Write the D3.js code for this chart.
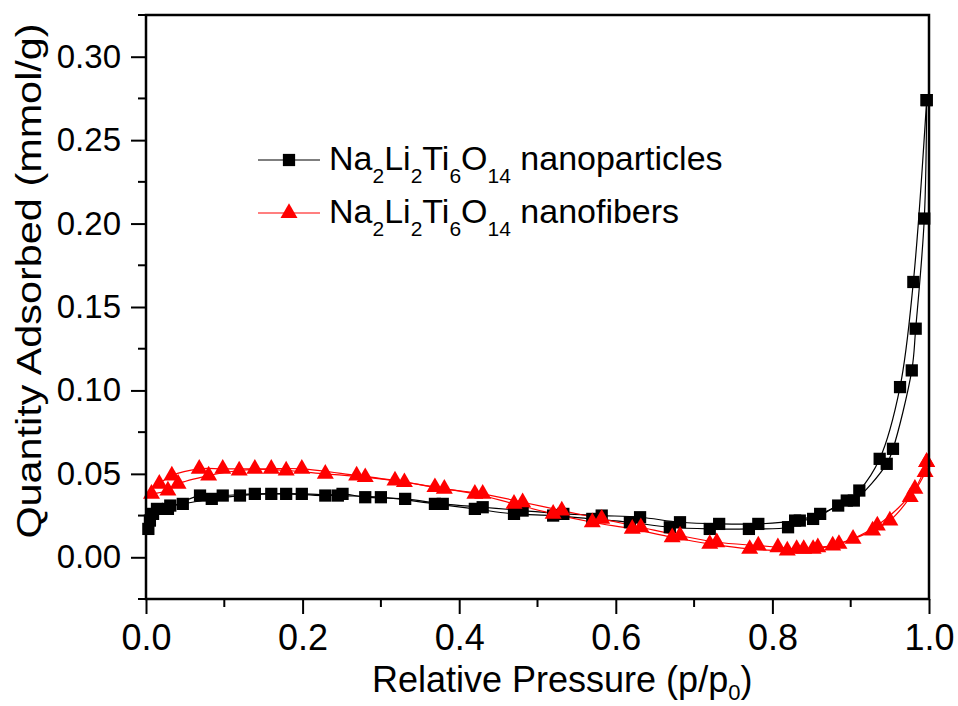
<!DOCTYPE html>
<html>
<head>
<meta charset="utf-8">
<script src="https://cdn.jsdelivr.net/npm/d3@7"></script>
<style>
  body { margin: 0; background: #fff; }
  svg { display: block; }
  text { font-family: "Liberation Sans", Arial, sans-serif; fill: #000; }
</style>
</head>
<body>
<svg id="chart" width="958" height="706"></svg>
<script>
// ---- data (p/p0, mmol/g) ----
const npAdsP = [0.003,0.005,0.009,0.014,0.031,0.047,0.084,0.120,0.160,0.199,0.245,0.300,0.369,0.420,0.470,0.520,0.570,0.618,0.669,0.720,0.770,0.820,0.835,0.852,0.884,0.904,0.946,0.954,0.978,0.983,0.994,0.997];
const npAdsV = [0.017,0.022,0.026,0.029,0.031,0.032,0.035,0.037,0.038,0.038,0.037,0.036,0.032,0.029,0.026,0.025,0.023,0.021,0.018,0.017,0.017,0.018,0.022,0.023,0.031,0.034,0.056,0.065,0.112,0.137,0.203,0.274];
const npDesP = [0.997,0.980,0.963,0.937,0.911,0.895,0.861,0.829,0.782,0.732,0.682,0.631,0.582,0.533,0.481,0.430,0.379,0.331,0.280,0.251,0.229,0.179,0.139,0.098,0.069,0.028];
const npDesV = [0.274,0.165,0.102,0.059,0.040,0.034,0.026,0.022,0.020,0.020,0.021,0.024,0.025,0.026,0.028,0.030,0.032,0.035,0.036,0.038,0.037,0.038,0.038,0.037,0.037,0.029];

const nfAdsP = [0.007,0.028,0.041,0.080,0.119,0.160,0.199,0.269,0.318,0.369,0.420,0.470,0.520,0.570,0.621,0.672,0.720,0.771,0.819,0.840,0.858,0.877,0.903,0.928,0.950,0.976,0.995,0.997];
const nfAdsV = [0.038,0.040,0.044,0.049,0.052,0.053,0.053,0.049,0.046,0.042,0.038,0.032,0.026,0.021,0.017,0.012,0.008,0.005,0.004,0.005,0.006,0.007,0.011,0.016,0.022,0.036,0.051,0.057];
const nfDesP = [0.997,0.982,0.934,0.885,0.852,0.831,0.807,0.782,0.729,0.682,0.632,0.582,0.531,0.481,0.430,0.381,0.330,0.280,0.229,0.179,0.139,0.098,0.068,0.033,0.017];
const nfDesV = [0.057,0.041,0.019,0.008,0.005,0.005,0.006,0.007,0.009,0.013,0.018,0.023,0.028,0.033,0.038,0.041,0.045,0.048,0.050,0.052,0.053,0.053,0.053,0.049,0.044];

const xTicks = [0.0, 0.2, 0.4, 0.6, 0.8, 1.0];
const xMinor = [0.1, 0.3, 0.5, 0.7, 0.9];
const yTicks = [0.00, 0.05, 0.10, 0.15, 0.20, 0.25, 0.30];
const yMinor = [-0.025, 0.025, 0.075, 0.125, 0.175, 0.225, 0.275, 0.325];

const seriesNames = ["nanoparticles", "nanofibers"];
const formula = [["Na",""],["2","sub"],["Li",""],["2","sub"],["Ti",""],["6","sub"],["O",""],["14","sub"]];

// ---- layout ----
const W = 958, H = 706;
const m = {left: 146, right: 29, top: 15, bottom: 107};
const iw = W - m.left - m.right, ih = H - m.top - m.bottom;

const svg = d3.select("#chart");
const x = d3.scaleLinear().domain([0, 1.0]).range([m.left, m.left + iw]);
const y = d3.scaleLinear().domain([-0.025, 0.325]).range([m.top + ih, m.top]);

const zip = (a, b) => a.map((d, i) => [d, b[i]]);
const line = d3.line().x(d => x(d[0])).y(d => y(d[1])).curve(d3.curveCatmullRom.alpha(0.5));

const series = [
  {ads: zip(npAdsP, npAdsV), des: zip(npDesP, npDesV), color: "#000", shape: d3.symbolSquare, size: 150},
  {ads: zip(nfAdsP, nfAdsV), des: zip(nfDesP, nfDesV), color: "#ff0000", shape: d3.symbolTriangle, size: 125}
];

const plot = svg.append("g");
series.forEach(s => {
  [s.ads, s.des].forEach(pts => {
    plot.append("path").datum(pts).attr("d", line)
      .attr("fill", "none").attr("stroke", s.color).attr("stroke-width", 1.2);
  });
});
series.forEach(s => {
  [s.ads, s.des].forEach(pts => {
    plot.selectAll(null).data(pts).enter().append("path")
      .attr("d", d3.symbol().type(s.shape).size(s.size))
      .attr("transform", d => `translate(${x(d[0])},${y(d[1])})`)
      .attr("fill", s.color);
  });
});

// ---- axes ----
const xAxis = d3.axisBottom(x).tickValues(xTicks).tickFormat(d3.format(".1f")).tickSize(15).tickPadding(10);
const gx = svg.append("g").attr("transform", `translate(0,${m.top + ih})`).call(xAxis);
const yAxis = d3.axisLeft(y).tickValues(yTicks).tickFormat(d3.format(".2f")).tickSize(15).tickPadding(10);
const gy = svg.append("g").attr("transform", `translate(${m.left},0)`).call(yAxis);
[gx, gy].forEach(g => {
  g.select(".domain").remove();
  g.selectAll(".tick line").attr("stroke", "#000").attr("stroke-width", 2);
  g.selectAll(".tick text").attr("font-family", "Liberation Sans, Arial, sans-serif").attr("fill", "#000");
});
gx.selectAll(".tick text").attr("font-size", 36);
gy.selectAll(".tick text").attr("font-size", 33);

svg.append("g").selectAll(null).data(xMinor).enter().append("line")
  .attr("x1", d => x(d)).attr("x2", d => x(d))
  .attr("y1", m.top + ih).attr("y2", m.top + ih + 8)
  .attr("stroke", "#000").attr("stroke-width", 2);
svg.append("g").selectAll(null).data(yMinor).enter().append("line")
  .attr("x1", m.left).attr("x2", m.left - 8)
  .attr("y1", d => y(d)).attr("y2", d => y(d))
  .attr("stroke", "#000").attr("stroke-width", 2);

// frame
svg.append("rect").attr("x", m.left).attr("y", m.top).attr("width", iw).attr("height", ih)
  .attr("fill", "none").attr("stroke", "#000").attr("stroke-width", 2.5);

// axis titles
const xt = svg.append("text").attr("x", 372).attr("y", 692)
  .attr("text-anchor", "start").attr("font-size", 36);
xt.append("tspan").text("Relative Pressure (p/p");
xt.append("tspan").text("0").attr("font-size", 22).attr("dy", 8);
xt.append("tspan").text(")").attr("dy", -8);

svg.append("text").attr("transform", `translate(41,${281}) rotate(-90) scale(1.15,1)`)
  .attr("text-anchor", "middle").attr("font-size", 36)
  .text("Quantity Adsorbed (mmol/g)");

// legend
const legY = [160, 213];
series.forEach((s, i) => {
  const g = svg.append("g");
  g.append("line").attr("x1", 258).attr("x2", 320).attr("y1", legY[i]).attr("y2", legY[i])
    .attr("stroke", s.color).attr("stroke-width", 1.2);
  g.append("path").attr("d", d3.symbol().type(s.shape).size(s.size))
    .attr("transform", `translate(289,${legY[i]})`).attr("fill", s.color);
  const t = g.append("text").attr("x", 329).attr("y", legY[i] + 10).attr("font-size", 34);
  let sub = false;
  const off = 13;
  formula.forEach(([txt, kind]) => {
    const sp = t.append("tspan").text(txt);
    if (kind === "sub" && !sub) { sp.attr("font-size", 21).attr("dy", off); sub = true; }
    else if (kind === "sub") { sp.attr("font-size", 21); }
    else if (sub) { sp.attr("dy", -off); sub = false; }
  });
  t.append("tspan").text(" " + seriesNames[i]).attr("dy", sub ? -off : 0);
});
</script>
</body>
</html>
